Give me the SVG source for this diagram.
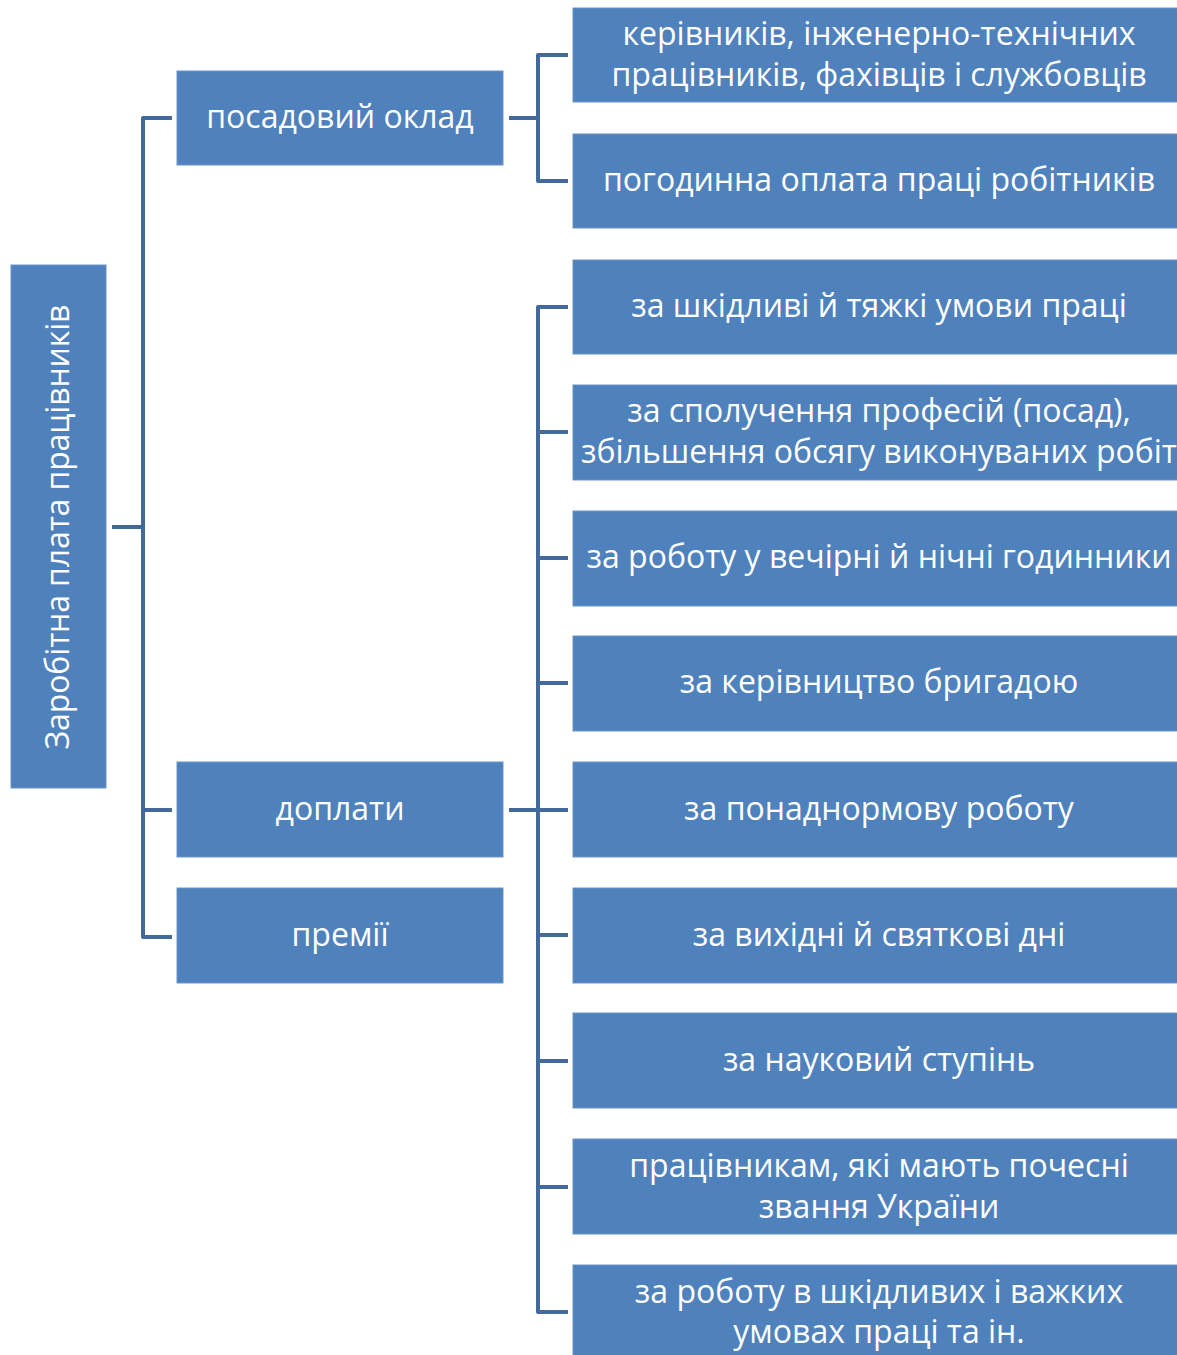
<svg xmlns="http://www.w3.org/2000/svg" width="1177" height="1355" viewBox="0 0 1177 1355">
<style>
.box{fill:#4F81BD;stroke:#6A93C8;stroke-width:1}
.t{font-family:"Open Sans","Noto Sans","DejaVu Sans",sans-serif;font-size:32px;fill:#FFFFFF;text-anchor:middle}
.c{fill:none;stroke:#41699C;stroke-width:4;stroke-linejoin:round}
</style>
<rect width="1177" height="1355" fill="#FFFFFF"/>
<g id="connectors">
<path class="c" d="M112,527 H143 M172,118 H143 V937 H172 M143,810 H172"/>
<path class="c" d="M509,118 H538 M568,55 H538 V181 H568"/>
<path class="c" d="M509,810 H568 M568,307 H538 V1312 H568 M538,432 H568 M538,558 H568 M538,683 H568 M538,935 H568 M538,1061 H568 M538,1187 H568"/>
</g>
<g id="root"><rect class="box" x="11" y="265" width="95" height="523"/><text class="t" transform="translate(69,527) rotate(-90)" textLength="445">Заробітна плата працівників</text></g>
<g id="n-posad"><rect class="box" x="177" y="71" width="326" height="94"/><text class="t" x="340" y="128">посадовий оклад</text></g>
<g id="n-doplaty"><rect class="box" x="177" y="762" width="326" height="95"/><text class="t" x="340" y="820">доплати</text></g>
<g id="n-premii"><rect class="box" x="177" y="888" width="326" height="95"/><text class="t" x="340" y="946">премії</text></g>
<g id="r1"><rect class="box" x="573" y="8" width="620" height="94"/><text class="t" x="879" y="45">керівників, інженерно-технічних</text><text class="t" x="879" y="86">працівників, фахівців і службовців</text></g>
<g id="r2"><rect class="box" x="573" y="134" width="620" height="94"/><text class="t" x="879" y="191">погодинна оплата праці робітників</text></g>
<g id="r3"><rect class="box" x="573" y="260" width="620" height="94"/><text class="t" x="879" y="317">за шкідливі й тяжкі умови праці</text></g>
<g id="r4"><rect class="box" x="573" y="385" width="620" height="95"/><text class="t" x="879" y="422">за сполучення професій (посад),</text><text class="t" x="879" y="463">збільшення обсягу виконуваних робіт</text></g>
<g id="r5"><rect class="box" x="573" y="511" width="620" height="95"/><text class="t" x="879" y="568">за роботу у вечірні й нічні годинники</text></g>
<g id="r6"><rect class="box" x="573" y="636" width="620" height="95"/><text class="t" x="879" y="693">за керівництво бригадою</text></g>
<g id="r7"><rect class="box" x="573" y="762" width="620" height="95"/><text class="t" x="879" y="820">за понаднормову роботу</text></g>
<g id="r8"><rect class="box" x="573" y="888" width="620" height="95"/><text class="t" x="879" y="946">за вихідні й святкові дні</text></g>
<g id="r9"><rect class="box" x="573" y="1013" width="620" height="95"/><text class="t" x="879" y="1071">за науковий ступінь</text></g>
<g id="r10"><rect class="box" x="573" y="1139" width="620" height="95"/><text class="t" x="879" y="1177">працівникам, які мають почесні</text><text class="t" x="879" y="1218">звання України</text></g>
<g id="r11"><rect class="box" x="573" y="1265" width="620" height="100"/><text class="t" x="879" y="1303">за роботу в шкідливих і важких</text><text class="t" x="879" y="1343">умовах праці та ін.</text></g>
</svg>
